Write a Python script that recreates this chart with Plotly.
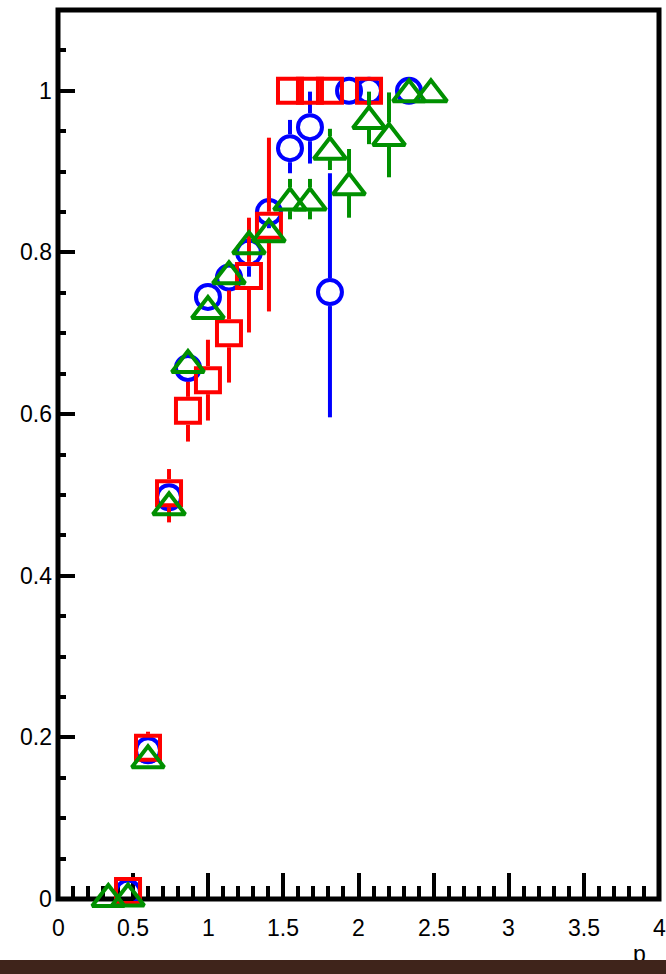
import plotly.graph_objects as go

# ---------------- data ----------------
blue_x = [0.466, 0.599, 0.739, 0.865, 0.998, 1.138, 1.271, 1.404, 1.544, 1.677, 1.810, 1.937, 2.070, 2.336]
blue_y = [0.008, 0.184, 0.497, 0.657, 0.745, 0.769, 0.800, 0.850, 0.929, 0.955, 0.751, 1.000, 1.000, 1.000]
blue_lo = [0.0, 0.0, 0.0, 0.0, 0.0, 0.0, 0.030, 0.020, 0.031, 0.045, 0.155, 0.0, 0.0, 0.0]
blue_hi = [0.0, 0.0, 0.0, 0.0, 0.0, 0.0, 0.025, 0.020, 0.035, 0.044, 0.147, 0.0, 0.0, 0.0]

red_x = [0.466, 0.599, 0.739, 0.865, 0.998, 1.138, 1.271, 1.404, 1.544, 1.677, 1.810, 2.070]
red_y = [0.010, 0.187, 0.502, 0.604, 0.642, 0.700, 0.771, 0.833, 1.000, 1.000, 1.000, 1.000]
red_lo = [0.0, 0.010, 0.036, 0.038, 0.050, 0.061, 0.070, 0.106, 0.0, 0.0, 0.0, 0.0]
red_hi = [0.0, 0.020, 0.030, 0.036, 0.050, 0.053, 0.072, 0.109, 0.0, 0.0, 0.0, 0.0]

green_x = [0.335, 0.466, 0.599, 0.739, 0.865, 0.998, 1.138, 1.271, 1.404, 1.544, 1.677, 1.810, 1.937, 2.070, 2.203, 2.336, 2.482]
green_y = [0.000, 0.005, 0.176, 0.489, 0.665, 0.732, 0.775, 0.812, 0.827, 0.866, 0.866, 0.929, 0.885, 0.967, 0.946, 1.000, 1.000]
green_lo = [0.0, 0.0, 0.0, 0.0, 0.0, 0.0, 0.0, 0.0, 0.0, 0.025, 0.025, 0.027, 0.042, 0.033, 0.053, 0.0, 0.0]
green_hi = [0.0, 0.0, 0.0, 0.0, 0.0, 0.0, 0.0, 0.0, 0.0, 0.025, 0.025, 0.024, 0.043, 0.032, 0.052, 0.0, 0.0]

x_ticks = [0, 0.5, 1, 1.5, 2, 2.5, 3, 3.5, 4]
y_ticks = [0, 0.2, 0.4, 0.6, 0.8, 1]
x_title = "p"

# ---------------- style ----------------
W, H = 666, 974
ML, MR, MT, MB = 58, 7, 10, 75
Y_RANGE = [0, 1.1]
PLOT_W = W - ML - MR
PLOT_H = H - MT - MB
PX_PER_Y = PLOT_H / (Y_RANGE[1] - Y_RANGE[0])
FONT = "Liberation Sans, Arial, Helvetica, sans-serif"
FS = 23
BAR_TOP = 960          # pixel row where the dark bottom strip starts
XLABEL_ROW = 928       # pixel row of the x tick label centres
BROWN = "#3f241b"

BLUE, RED, GREEN = "#0000ff", "#ff0000", "#009000"


def err_segments(xs, ys, lo, hi, gap_up_px, gap_dn_px):
    gu = gap_up_px / PX_PER_Y
    gd = gap_dn_px / PX_PER_Y
    sx, sy = [], []
    for x, y, l, h in zip(xs, ys, lo, hi):
        if h > gu:
            sx += [x, x, None]
            sy += [y + gu, y + h, None]
        if l > gd:
            sx += [x, x, None]
            sy += [y - gd, y - l, None]
    return sx, sy


def paper_y(px_row):
    return (H - MB - px_row) / PLOT_H


fig = go.Figure()

TRI = 28
series = [
    (blue_x, blue_y, blue_lo, blue_hi, BLUE, "circle-open", 24, 14, 14, 0),
    (red_x, red_y, red_lo, red_hi, RED, "square-open", 24, 14, 14, 0),
    (green_x, green_y, green_lo, green_hi, GREEN, "triangle-up-open", TRI, 12, 12, TRI / 2 / 4),
]
for xs, ys, lo, hi, col, sym, size, gu, gd, shift in series:
    sx, sy = err_segments(xs, ys, lo, hi, gu, gd)
    fig.add_trace(go.Scatter(x=sx, y=sy, mode="lines",
                             line=dict(color=col, width=4),
                             cliponaxis=False, showlegend=False, hoverinfo="skip"))
    # plotly's triangle is not centred on its bounding box; nudge it (kept inside the range)
    ym = [max(Y_RANGE[0], y - shift / PX_PER_Y) for y in ys]
    fig.add_trace(go.Scatter(x=xs, y=ym, mode="markers",
                             marker=dict(symbol=sym, size=size, color=col,
                                         line=dict(color=col, width=4)),
                             cliponaxis=False, showlegend=False))

annotations = []
# tick labels
for v in x_ticks:
    annotations.append(dict(text=f"{v:g}", xref="x", yref="paper", x=v,
                            y=paper_y(XLABEL_ROW),
                            xanchor="center", yanchor="middle",
                            showarrow=False, borderpad=0, borderwidth=0,
                            font=dict(family=FONT, size=FS, color="black")))
for v in y_ticks:
    annotations.append(dict(text=f"{v:g}", xref="paper", yref="y", x=0, y=v,
                            xanchor="right", yanchor="middle", xshift=-6,
                            showarrow=False, borderpad=0, borderwidth=0,
                            font=dict(family=FONT, size=FS, color="black")))
# axis title, partly hidden by the bottom strip
annotations.append(dict(text=x_title, xref="paper", yref="paper",
                        x=(639 - ML) / PLOT_W, y=paper_y(954),
                        xanchor="center", yanchor="middle", showarrow=False,
                        borderpad=0, borderwidth=0,
                        font=dict(family=FONT, size=FS, color="black")))
# bottom strip drawn last so it covers the lower part of the title
annotations.append(dict(text=" ", xref="paper", yref="paper",
                        x=(W / 2 - ML) / PLOT_W, y=paper_y(BAR_TOP),
                        xanchor="center", yanchor="top", showarrow=False,
                        width=W + 40, height=H - BAR_TOP + 10,
                        bgcolor=BROWN, borderpad=0, borderwidth=0,
                        font=dict(size=4)))

fig.update_layout(
    width=W, height=H,
    margin=dict(l=ML, r=MR, t=MT, b=MB, pad=0),
    paper_bgcolor="white", plot_bgcolor="white",
    font=dict(family=FONT, size=FS, color="black"),
    showlegend=False,
    xaxis=dict(range=[0, 4], tickmode="array", tickvals=x_ticks,
               showticklabels=False,
               ticks="inside", ticklen=26, tickwidth=4, tickcolor="black",
               minor=dict(dtick=0.1, tick0=0, ticks="inside", ticklen=13,
                          tickwidth=4, tickcolor="black", showgrid=False),
               showgrid=False, zeroline=False, showline=False,
               layer="below traces", fixedrange=True),
    yaxis=dict(range=Y_RANGE, tickmode="array", tickvals=y_ticks,
               showticklabels=False,
               ticks="inside", ticklen=17, tickwidth=4, tickcolor="black",
               minor=dict(dtick=0.05, tick0=0, ticks="inside", ticklen=8,
                          tickwidth=4, tickcolor="black", showgrid=False),
               showgrid=False, zeroline=False, showline=False,
               layer="below traces", fixedrange=True),
    annotations=annotations,
    shapes=[
        dict(type="rect", xref="paper", yref="paper", x0=0, x1=1, y0=0, y1=1,
             line=dict(color="black", width=5), fillcolor="rgba(0,0,0,0)",
             layer="below"),
        dict(type="rect", xref="paper", yref="paper", x0=-0.2, x1=1.2,
             y0=paper_y(H + 5), y1=paper_y(BAR_TOP),
             line=dict(width=0), fillcolor=BROWN, layer="above"),
    ],
)

fig.write_html("out.html")
